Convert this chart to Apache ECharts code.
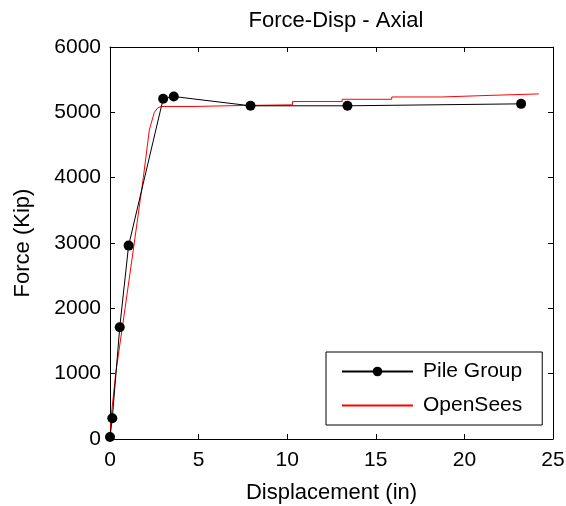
<!DOCTYPE html>
<html><head><meta charset="utf-8">
<script src="https://cdn.jsdelivr.net/npm/echarts@6/dist/echarts.min.js"></script>
<style>html,body{margin:0;padding:0;background:#fff}#c{width:566px;height:506px}</style>
</head><body><div id="c"></div>
<script>
const titleText = 'Force-Disp - Axial';
const xName = 'Displacement (in)';
const yName = 'Force (Kip)';
const pileGroupDisp = [0, 0.13, 0.55, 1.05, 3.0, 3.6, 7.93, 13.4, 23.2];
const pileGroupForce = [30, 317, 1710, 2960, 5207, 5242, 5100, 5100, 5130];
const openSeesDisp = [0, 0.05, 0.32, 0.85, 1.37, 1.88, 2.22, 2.5, 2.7, 2.9, 4.8, 4.8, 7.5, 7.5, 10.3, 10.3, 13.1, 13.1, 15.9, 15.9, 18.7, 18.7, 21.5, 21.5, 24.2];
const openSeesForce = [0, 300, 1000, 2000, 3000, 4000, 4730, 5000, 5070, 5090, 5090, 5105, 5105, 5115, 5115, 5165, 5165, 5200, 5200, 5235, 5235, 5260, 5260, 5282, 5282];
const xTicks = [0, 5, 10, 15, 20, 25];
const yTicks = [0, 1000, 2000, 3000, 4000, 5000, 6000];

const font = 'Liberation Sans, Arial, Helvetica, sans-serif';
const chart = echarts.init(document.getElementById('c'), null, {renderer: 'canvas'});
const axisCommon = {
  axisLine: {show: true, onZero: false, lineStyle: {color: '#000', width: 1}},
  axisTick: {show: true, inside: true, length: 5, lineStyle: {color: '#000'}},
  splitLine: {show: false}
};
chart.setOption({
  animation: false,
  backgroundColor: '#fff',
  title: {text: titleText, left: 331, top: 5, textAlign: 'center',
    textStyle: {fontFamily: font, fontSize: 22, fontWeight: 'normal', color: '#000'}},
  grid: {left: 110, right: 13, top: 47, bottom: 67, containLabel: false, outerBoundsMode: 'none'},
  xAxis: [
    Object.assign({type: 'value', min: xTicks[0], max: xTicks[xTicks.length-1], interval: 5, position: 'bottom',
      name: xName, nameLocation: 'middle', nameGap: 43,
      nameTextStyle: {fontFamily: font, fontSize: 22, color: '#000'},
      axisLabel: {fontFamily: font, fontSize: 21, color: '#000', margin: 11, formatter: v => String(v)}}, axisCommon),
    Object.assign({type: 'value', min: xTicks[0], max: xTicks[xTicks.length-1], interval: 5, position: 'top',
      axisLabel: {show: false}}, axisCommon)
  ],
  yAxis: [
    Object.assign({type: 'value', min: yTicks[0], max: yTicks[yTicks.length-1], interval: 1000, position: 'left',
      name: yName, nameLocation: 'middle', nameGap: 76,
      nameTextStyle: {fontFamily: font, fontSize: 22, color: '#000'},
      axisLabel: {fontFamily: font, fontSize: 21, color: '#000', margin: 9, formatter: v => String(v)}}, axisCommon),
    Object.assign({type: 'value', min: yTicks[0], max: yTicks[yTicks.length-1], interval: 1000, position: 'right',
      axisLabel: {show: false}}, axisCommon)
  ],
  legend: {
    orient: 'vertical', left: 326, top: 352,
    backgroundColor: '#fff', borderColor: '#000', borderWidth: 1, borderRadius: 0,
    padding: [9, 20, 9, 15], itemGap: 13, itemWidth: 71, itemHeight: 12,
    textStyle: {fontFamily: font, fontSize: 21, color: '#000', padding: [0, 0, 0, 5]},
    data: ['Pile Group', {name: 'OpenSees', itemStyle: {opacity: 0}}]
  },
  series: [
    {name: 'Pile Group', type: 'line', symbol: 'circle', symbolSize: 10,
      itemStyle: {color: '#000'}, lineStyle: {color: '#000', width: 1},
      data: pileGroupDisp.map((d, i) => [d, pileGroupForce[i]]), z: 3},
    {name: 'OpenSees', type: 'line', showSymbol: false, symbol: 'none',
      itemStyle: {color: '#ff0000'}, lineStyle: {color: '#ff0000', width: 1},
      data: openSeesDisp.map((d, i) => [d, openSeesForce[i]]), z: 2}
  ]
});
</script></body></html>
